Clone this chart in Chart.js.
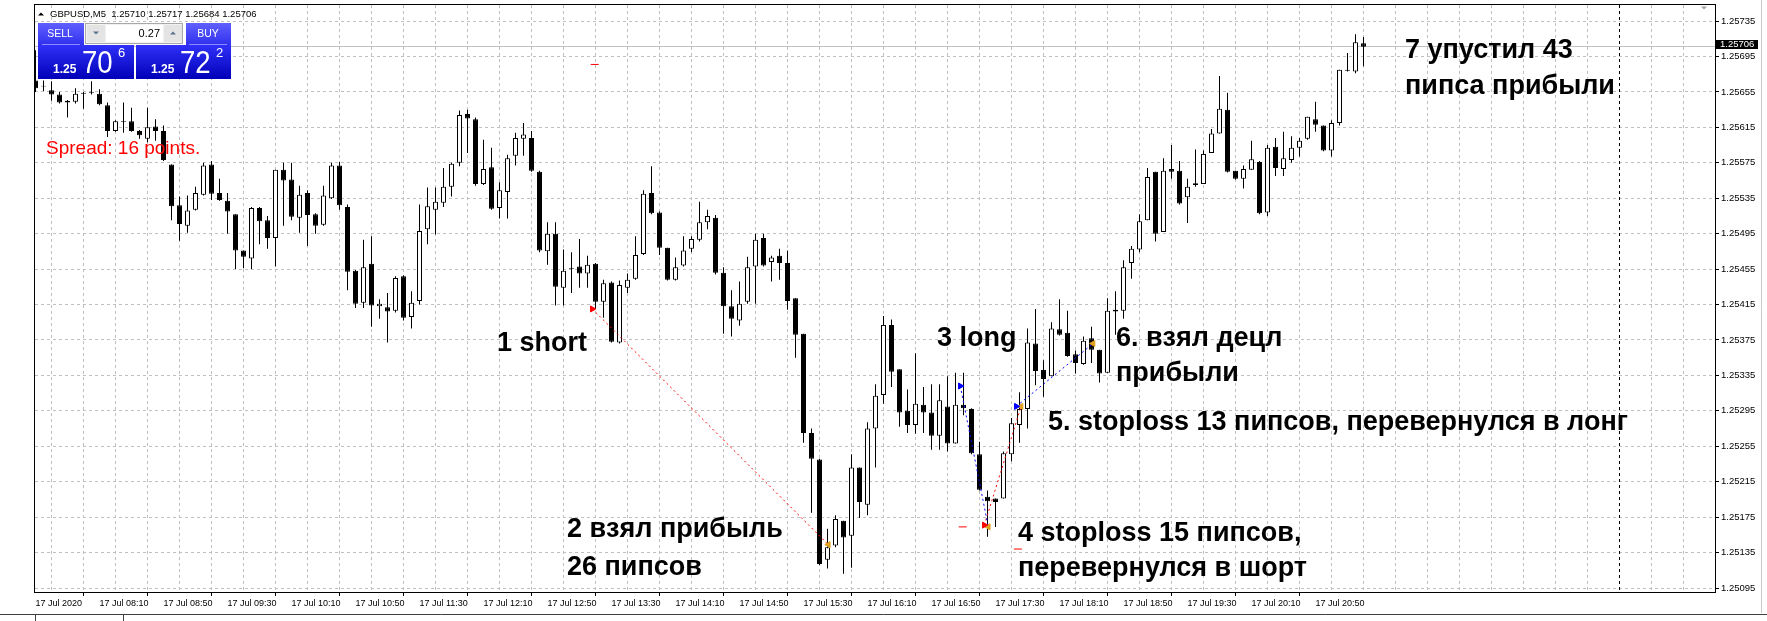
<!DOCTYPE html>
<html>
<head>
<meta charset="utf-8">
<title>GBPUSD,M5</title>
<script src="https://cdn.jsdelivr.net/npm/chart.js@4.4.1/dist/chart.umd.min.js"></script>
<style>
  html, body { margin: 0; padding: 0; background: #fff; }
  #box { width: 1767px; height: 621px; position: relative; }
</style>
</head>
<body>
<div id="box"><canvas id="chart"></canvas></div>
<script>
// GBPUSD M5, 17 Jul 2020, first bar 07:30, one bar every 5 minutes
const opens = [
  1.25668,1.25661,1.25657,1.25652,1.25645,1.25644,1.25654,1.25655,1.25653,1.25640,
  1.25611,1.25622,1.25622,1.25611,1.25602,1.25616,1.25611,1.25573,1.25527,1.25504,
  1.25522,1.25539,1.25573,1.25541,1.25532,1.25517,1.25476,1.25467,1.25524,1.25510,
  1.25490,1.25567,1.25556,1.25513,1.25541,1.25517,1.25505,1.25535,1.25572,1.25525,
  1.25453,1.25417,1.25461,1.25413,1.25412,1.25408,1.25447,1.25401,1.25419,1.25500,
  1.25522,1.25530,1.25548,1.25575,1.25630,1.25624,1.25551,1.25570,1.25524,1.25542,
  1.25583,1.25602,1.25603,1.25565,1.25475,1.25495,1.25434,1.25456,1.25458,1.25450,
  1.25461,1.25418,1.25440,1.25372,1.25434,1.25444,1.25472,1.25541,1.25519,1.25479,
  1.25443,1.25459,1.25478,1.25488,1.25508,1.25513,1.25451,1.25413,1.25397,1.25418,
  1.25458,1.25490,1.25463,1.25470,1.25462,1.25422,1.25382,1.25270,1.25240,1.25127,
  1.25143,1.25171,1.25154,1.25231,1.25189,1.25275,1.25313,1.25392,1.25342,1.25295,
  1.25279,1.25302,1.25293,1.25267,1.25300,1.25258,1.25302,1.25297,1.25246,1.25198,
  1.25196,1.25196,1.25246,1.25279,1.25297,1.25371,1.25341,1.25334,1.25387,1.25383,
  1.25359,1.25348,1.25377,1.25364,1.25338,1.25407,1.25408,1.25462,1.25477,1.25510,
  1.25565,1.25497,1.25568,1.25566,1.25536,1.25550,1.25551,1.25586,1.25608,1.25635,
  1.25566,1.25557,1.25567,1.25576,1.25519,1.25593,1.25568,1.25578,1.25592,1.25602,
  1.25624,1.25617,1.25589,1.25620,1.25680,1.25678,1.25710
];
const highs = [
  1.25702,1.25668,1.25667,1.25655,1.25646,1.25659,1.25655,1.25667,1.25658,1.25643,
  1.25623,1.25643,1.25637,1.25612,1.25637,1.25624,1.25617,1.25573,1.25537,1.25538,
  1.25548,1.25575,1.25577,1.25557,1.25541,1.25517,1.25476,1.25525,1.25525,1.25515,
  1.25567,1.25575,1.25575,1.25549,1.25544,1.25518,1.25549,1.25575,1.25576,1.25528,
  1.25454,1.25488,1.25492,1.25421,1.25428,1.25447,1.25448,1.25430,1.25528,1.25547,
  1.25547,1.25569,1.25575,1.25634,1.25635,1.25626,1.25601,1.25592,1.25553,1.25584,
  1.25609,1.25620,1.25611,1.25566,1.25508,1.25508,1.25477,1.25474,1.25489,1.25470,
  1.25462,1.25443,1.25441,1.25442,1.25450,1.25492,1.25544,1.25571,1.25520,1.25479,
  1.25468,1.25492,1.25492,1.25531,1.25522,1.25516,1.25457,1.25431,1.25441,1.25469,
  1.25495,1.25495,1.25470,1.25478,1.25476,1.25422,1.25382,1.25275,1.25241,1.25162,
  1.25177,1.25171,1.25246,1.25231,1.25282,1.25325,1.25402,1.25398,1.25342,1.25319,
  1.25360,1.25322,1.25325,1.25325,1.25334,1.25338,1.25338,1.25298,1.25260,1.25205,
  1.25196,1.25249,1.25287,1.25316,1.25388,1.25410,1.25352,1.25395,1.25421,1.25408,
  1.25363,1.25379,1.25390,1.25364,1.25422,1.25430,1.25465,1.25481,1.25517,1.25569,
  1.25565,1.25580,1.25595,1.25577,1.25557,1.25590,1.25589,1.25613,1.25673,1.25654,
  1.25566,1.25572,1.25600,1.25577,1.25595,1.25603,1.25610,1.25605,1.25603,1.25627,
  1.25644,1.25617,1.25623,1.25680,1.25699,1.25720,1.25717
];
const lows = [
  1.25655,1.25656,1.25645,1.25642,1.25626,1.25642,1.25636,1.25652,1.25640,1.25604,
  1.25610,1.25609,1.25610,1.25602,1.25598,1.25600,1.25577,1.25510,1.25487,1.25496,
  1.25521,1.25538,1.25533,1.25532,1.25495,1.25455,1.25456,1.25455,1.25483,1.25478,
  1.25458,1.25504,1.25510,1.25496,1.25481,1.25495,1.25504,1.25534,1.25522,1.25431,
  1.25411,1.25411,1.25390,1.25399,1.25372,1.25406,1.25397,1.25388,1.25415,1.25483,
  1.25494,1.25525,1.25537,1.25571,1.25586,1.25549,1.25550,1.25522,1.25512,1.25512,
  1.25572,1.25583,1.25565,1.25474,1.25460,1.25414,1.25414,1.25428,1.25434,1.25434,
  1.25410,1.25400,1.25372,1.25371,1.25428,1.25443,1.25471,1.25517,1.25471,1.25442,
  1.25442,1.25458,1.25474,1.25486,1.25500,1.25449,1.25382,1.25379,1.25391,1.25416,
  1.25416,1.25458,1.25441,1.25443,1.25409,1.25355,1.25259,1.25180,1.25121,1.25117,
  1.25141,1.25111,1.25118,1.25174,1.25177,1.25231,1.25303,1.25322,1.25277,1.25270,
  1.25269,1.25270,1.25251,1.25251,1.25249,1.25258,1.25290,1.25246,1.25205,1.25153,
  1.25164,1.25196,1.25238,1.25259,1.25275,1.25324,1.25311,1.25334,1.25380,1.25356,
  1.25337,1.25347,1.25349,1.25327,1.25338,1.25381,1.25399,1.25444,1.25474,1.25510,
  1.25486,1.25497,1.25557,1.25528,1.25507,1.25548,1.25551,1.25586,1.25608,1.25564,
  1.25556,1.25546,1.25567,1.25517,1.25515,1.25560,1.25560,1.25575,1.25582,1.25601,
  1.25610,1.25588,1.25582,1.25617,1.25678,1.25676,1.25684
];
const closes = [
  1.25659,1.25662,1.25652,1.25643,1.25643,1.25653,1.25653,1.25654,1.25641,1.25611,
  1.25622,1.25621,1.25611,1.25606,1.25615,1.25611,1.25578,1.25526,1.25506,1.25521,
  1.25541,1.25572,1.25540,1.25533,1.25520,1.25476,1.25469,1.25524,1.25509,1.25490,
  1.25567,1.25555,1.25514,1.25539,1.25516,1.25504,1.25538,1.25572,1.25527,1.25452,
  1.25416,1.25457,1.25414,1.25416,1.25407,1.25445,1.25400,1.25417,1.25498,1.25526,
  1.25531,1.25548,1.25574,1.25629,1.25625,1.25551,1.25568,1.25523,1.25544,1.25580,
  1.25603,1.25607,1.25566,1.25476,1.25495,1.25435,1.25453,1.25455,1.25450,1.25460,
  1.25418,1.25439,1.25373,1.25437,1.25443,1.25471,1.25540,1.25518,1.25479,1.25443,
  1.25457,1.25476,1.25489,1.25508,1.25515,1.25451,1.25413,1.25399,1.25416,1.25457,
  1.25488,1.25459,1.25468,1.25462,1.25419,1.25381,1.25270,1.25241,1.25122,1.25141,
  1.25173,1.25152,1.25231,1.25192,1.25275,1.25312,1.25392,1.25339,1.25293,1.25279,
  1.25303,1.25293,1.25267,1.25307,1.25258,1.25302,1.25298,1.25247,1.25206,1.25193,
  1.25192,1.25247,1.25281,1.25297,1.25372,1.25340,1.25331,1.25388,1.25381,1.25357,
  1.25349,1.25374,1.25364,1.25337,1.25408,1.25409,1.25457,1.25478,1.25509,1.25559,
  1.25495,1.25566,1.25565,1.25529,1.25548,1.25552,1.25585,1.25608,1.25636,1.25565,
  1.25557,1.25568,1.25579,1.25518,1.25592,1.25569,1.25580,1.25592,1.25600,1.25627,
  1.25618,1.25589,1.25620,1.25680,1.25679,1.25711,1.25706
];

// one label every 8 bars (40 min)
const timeLabels = [
  '17 Jul 2020','17 Jul 08:10','17 Jul 08:50','17 Jul 09:30','17 Jul 10:10','17 Jul 10:50',
  '17 Jul 11:30','17 Jul 12:10','17 Jul 12:50','17 Jul 13:30','17 Jul 14:10','17 Jul 14:50',
  '17 Jul 15:30','17 Jul 16:10','17 Jul 16:50','17 Jul 17:30','17 Jul 18:10','17 Jul 18:50',
  '17 Jul 19:30','17 Jul 20:10','17 Jul 20:50'
];
const priceTicks = [
  1.25095,1.25135,1.25175,1.25215,1.25255,1.25295,1.25335,1.25375,1.25415,
  1.25455,1.25495,1.25535,1.25575,1.25615,1.25655,1.25695,1.25735
];

// trades: side, open bar/price, close bar/price
const tradeSide = ['sell', 'buy', 'sell', 'buy'];
const tradeOpenBar = [69.6, 115.6, 118.6, 122.6];
const tradeOpenPrice = [1.25410, 1.25323, 1.25166, 1.25300];
const tradeCloseBar = [99.1, 119.1, 123.2, 132.2];
const tradeClosePrice = [1.25144, 1.25164, 1.25300, 1.25371];
// stop level dashes
const stopBar = [69.9, 115.9, 122.8];
const stopPrice = [1.25686, 1.25164, 1.25139];

const daySeparatorBar = 198;   // 18 Jul 00:00
const barsVisible = 210;

const notes = [
  ['7 упустил 43', 1405, 58],
  ['пипса прибыли', 1405, 94],
  ['1 short', 497, 351],
  ['2 взял прибыль', 567, 537],
  ['26 пипсов', 567, 575],
  ['3 long', 937, 346],
  ['6. взял децл', 1116, 346],
  ['прибыли', 1116, 381],
  ['5. stoploss 13 пипсов, перевернулся в лонг', 1048, 430],
  ['4 stoploss 15 пипсов,', 1018, 541],
  ['перевернулся в шорт', 1018, 576]
];

const FONT = 'Liberation Sans';
Chart.defaults.font.family = FONT;

const wickData = lows.map((l, i) => ({ x: i, y: [l, highs[i]] }));
const bodyData = opens.map((o, i) => ({ x: i, y: [o, closes[i]] }));
const bodyColors = opens.map((o, i) => closes[i] >= o ? '#ffffff' : '#000000');

const tradeLines = tradeSide.map((s, i) => ({
  type: 'line',
  data: [{ x: tradeOpenBar[i], y: tradeOpenPrice[i] }, { x: tradeCloseBar[i], y: tradeClosePrice[i] }],
  borderColor: s === 'sell' ? '#ff0000' : '#0000ff',
  borderWidth: 1,
  borderDash: [2, 3],
  pointRadius: 0,
  order: 1
}));

const markerSet = (bars, prices, color, style, rot, r) => ({
  type: 'line',
  data: bars.map((b, i) => ({ x: b, y: prices[i] })),
  showLine: false,
  pointStyle: style,
  rotation: rot,
  pointRadius: r,
  pointBackgroundColor: color,
  pointBorderColor: color,
  pointBorderWidth: 1,
  order: 0
});

const sellIdx = tradeSide.map((s, i) => s === 'sell' ? i : -1).filter(i => i >= 0);
const buyIdx = tradeSide.map((s, i) => s === 'buy' ? i : -1).filter(i => i >= 0);

const datasets = [
  { type: 'bar', label: 'wicks', data: wickData, backgroundColor: '#000', borderWidth: 0,
    barThickness: 1, grouped: false, inflateAmount: 0, order: 3 },
  { type: 'bar', label: 'bodies', data: bodyData, backgroundColor: bodyColors, borderColor: '#000',
    borderWidth: 1, borderSkipped: false, barThickness: 5, grouped: false, inflateAmount: 0, order: 2 },
  ...tradeLines,
  markerSet(sellIdx.map(i => tradeOpenBar[i]), sellIdx.map(i => tradeOpenPrice[i]), '#ff0000', 'triangle', 90, 3.5),
  markerSet(buyIdx.map(i => tradeOpenBar[i]), buyIdx.map(i => tradeOpenPrice[i]), '#0000ff', 'triangle', 90, 3.5),
  markerSet(tradeCloseBar, tradeClosePrice, '#e0a020', 'triangle', -90, 3.5),
  markerSet(stopBar, stopPrice, '#ff0000', 'line', 0, 4)
];

function vgrad(ctx, x, y, w, h, c1, c2) {
  const g = ctx.createLinearGradient(0, y, 0, y + h);
  g.addColorStop(0, c1);
  g.addColorStop(1, c2);
  ctx.fillStyle = g;
  ctx.fillRect(x, y, w, h);
}

function tri(ctx, cx, cy, s, up, color) {
  ctx.fillStyle = color;
  ctx.beginPath();
  if (up) { ctx.moveTo(cx - s, cy + s / 2); ctx.lineTo(cx + s, cy + s / 2); ctx.lineTo(cx, cy - s / 2); }
  else { ctx.moveTo(cx - s, cy - s / 2); ctx.lineTo(cx + s, cy - s / 2); ctx.lineTo(cx, cy + s / 2); }
  ctx.closePath();
  ctx.fill();
}

function bigPrice(ctx, x, small, big, sup) {
  ctx.fillStyle = '#fff';
  ctx.textBaseline = 'alphabetic';
  ctx.textAlign = 'left';
  ctx.font = 'bold 12px ' + FONT;
  ctx.fillText(small, x, 73);
  ctx.save();
  ctx.translate(x + 29, 73);
  ctx.scale(0.86, 1);
  ctx.font = '32px ' + FONT;
  ctx.fillText(big, 0, 0);
  ctx.restore();
  ctx.font = '13px ' + FONT;
  ctx.fillText(sup, x + 65, 57);
}

function drawPanel(ctx) {
  // sell / buy buttons
  vgrad(ctx, 38, 23, 46, 22, '#6060ff', '#3030ee');
  vgrad(ctx, 186, 23, 45, 22, '#6060ff', '#3030ee');
  // price boxes
  vgrad(ctx, 38, 45, 96, 34, '#3030f8', '#0000b8');
  vgrad(ctx, 136, 45, 95, 34, '#3030f8', '#0000b8');
  ctx.strokeStyle = '#8c8cff';
  ctx.lineWidth = 1;
  ctx.beginPath();
  ctx.moveTo(42, 44.5); ctx.lineTo(80, 44.5);
  ctx.moveTo(189, 44.5); ctx.lineTo(227, 44.5);
  ctx.stroke();
  // lot box
  ctx.fillStyle = '#f2f2f2';
  ctx.fillRect(85, 23, 98, 21);
  ctx.strokeStyle = '#a8a8a8';
  ctx.strokeRect(85.5, 23.5, 97, 20);
  ctx.fillStyle = '#ffffff';
  ctx.fillRect(106, 25, 57, 17);
  ctx.fillStyle = '#e4e4e4';
  ctx.fillRect(87, 25, 18, 17);
  ctx.fillRect(164, 25, 18, 17);
  tri(ctx, 96, 33, 3, false, '#5a7090');
  tri(ctx, 173, 33, 3, true, '#5a7090');
  ctx.fillStyle = '#000';
  ctx.font = '11px ' + FONT;
  ctx.textAlign = 'right';
  ctx.textBaseline = 'middle';
  ctx.fillText('0.27', 160, 34);
  ctx.fillStyle = '#fff';
  ctx.textAlign = 'center';
  ctx.font = '10.5px ' + FONT;
  ctx.fillText('SELL', 60, 34);
  ctx.fillText('BUY', 208, 34);
  bigPrice(ctx, 53, '1.25', '70', '6');
  bigPrice(ctx, 151, '1.25', '72', '2');
}

const decor = {
  id: 'decor',
  beforeDatasetsDraw(chart) {
    const { ctx, chartArea: a, scales: { x, y } } = chart;
    ctx.save();
    const by = Math.floor(y.getPixelForValue(closes[closes.length - 1])) + 0.5;
    ctx.strokeStyle = '#c0c0c0';
    ctx.lineWidth = 1;
    ctx.beginPath();
    ctx.moveTo(a.left, by); ctx.lineTo(a.right, by);
    ctx.stroke();
    const sx = Math.floor(x.getPixelForValue(daySeparatorBar)) + 0.5;
    ctx.strokeStyle = '#000';
    ctx.setLineDash([3, 3]);
    ctx.beginPath();
    ctx.moveTo(sx, a.top); ctx.lineTo(sx, a.bottom);
    ctx.stroke();
    ctx.restore();
  },
  afterDraw(chart) {
    const { ctx, chartArea: a, scales: { y } } = chart;
    ctx.save();
    // frame of the chart window
    ctx.strokeStyle = '#000';
    ctx.lineWidth = 1;
    ctx.strokeRect(a.left - 0.5, a.top - 0.5, a.right - a.left + 1, a.bottom - a.top + 1);
    ctx.strokeStyle = '#c8c8c8';
    ctx.beginPath();
    ctx.moveTo(1761.5, 0); ctx.lineTo(1761.5, 613);
    ctx.stroke();
    ctx.strokeStyle = '#404040';
    ctx.beginPath();
    ctx.moveTo(0, 614.5); ctx.lineTo(1767, 614.5);
    ctx.moveTo(35.5, 615); ctx.lineTo(35.5, 621);
    ctx.moveTo(123.5, 615); ctx.lineTo(123.5, 621);
    ctx.stroke();
    tri(ctx, 1704, 8, 3, false, '#a0a0a0');

    // header
    tri(ctx, 41, 14, 3, true, '#000');
    ctx.fillStyle = '#000';
    ctx.font = '9.5px ' + FONT;
    ctx.textAlign = 'left';
    ctx.textBaseline = 'middle';
    ctx.fillText('GBPUSD,M5  1.25710 1.25717 1.25684 1.25706', 50, 14);

    drawPanel(ctx);

    ctx.fillStyle = '#ff0000';
    ctx.font = '19px ' + FONT;
    ctx.textAlign = 'left';
    ctx.textBaseline = 'alphabetic';
    ctx.fillText('Spread: 16 points.', 46, 154);

    // trade notes
    ctx.fillStyle = '#000';
    ctx.font = 'bold 27px ' + FONT;
    notes.forEach(([t, nx, ny]) => ctx.fillText(t, nx, ny));

    // current price label
    const last = closes[closes.length - 1];
    const py = Math.floor(y.getPixelForValue(last));
    ctx.fillStyle = '#000';
    ctx.fillRect(1716, py - 6, 42, 9);
    ctx.fillStyle = '#fff';
    ctx.font = '9.5px ' + FONT;
    ctx.textBaseline = 'middle';
    ctx.fillText(last.toFixed(5), 1720, py - 1.5);
    ctx.restore();
  }
};

const config = {
  type: 'bar',
  data: { datasets: datasets },
  options: {
    responsive: true,
    maintainAspectRatio: false,
    animation: false,
    events: [],
    layout: { padding: { left: 35, top: 5, right: 0, bottom: 0 } },
    plugins: { legend: { display: false }, tooltip: { enabled: false } },
    scales: {
      x: {
        type: 'linear',
        offset: false,
        min: -0.0625,
        max: barsVisible - 0.0625,
        afterBuildTicks: (s) => {
          const t = [];
          for (let v = 0; v < barsVisible; v += 4) t.push({ value: v });
          s.ticks = t;
        },
        afterFit: (s) => { s.height = 29; s.paddingLeft = 0; s.paddingRight = 0; },
        ticks: {
          autoSkip: false,
          maxRotation: 0,
          align: 'start',
          padding: 2,
          color: '#000',
          font: { family: FONT, size: 9 },
          callback: (v) => (v % 8 === 0 && timeLabels[v / 8]) ? timeLabels[v / 8] : ''
        },
        grid: {
          color: '#c0c0c0',
          lineWidth: 1,
          drawTicks: true,
          tickLength: 4,
          tickColor: (c) => (c.tick && c.tick.label) ? '#000' : 'rgba(0,0,0,0)'
        },
        border: { display: false, dash: [3, 3] }
      },
      y: {
        type: 'linear',
        position: 'right',
        min: 1.250905,
        max: 1.257531,
        afterBuildTicks: (s) => { s.ticks = priceTicks.map(v => ({ value: v })); },
        afterFit: (s) => { s.width = 52; s.paddingTop = 0; s.paddingBottom = 0; },
        ticks: {
          padding: 2,
          color: '#000',
          font: { family: FONT, size: 9.5 },
          callback: (v) => Number(v).toFixed(5)
        },
        grid: { color: '#c0c0c0', lineWidth: 1, tickLength: 4, tickColor: '#000' },
        border: { display: false, dash: [3, 3] }
      }
    }
  },
  plugins: [decor]
};

window.onload = function () {
  const ctx = document.getElementById('chart').getContext('2d');
  window.candles = new Chart(ctx, config);
};
</script>
</body>
</html>
